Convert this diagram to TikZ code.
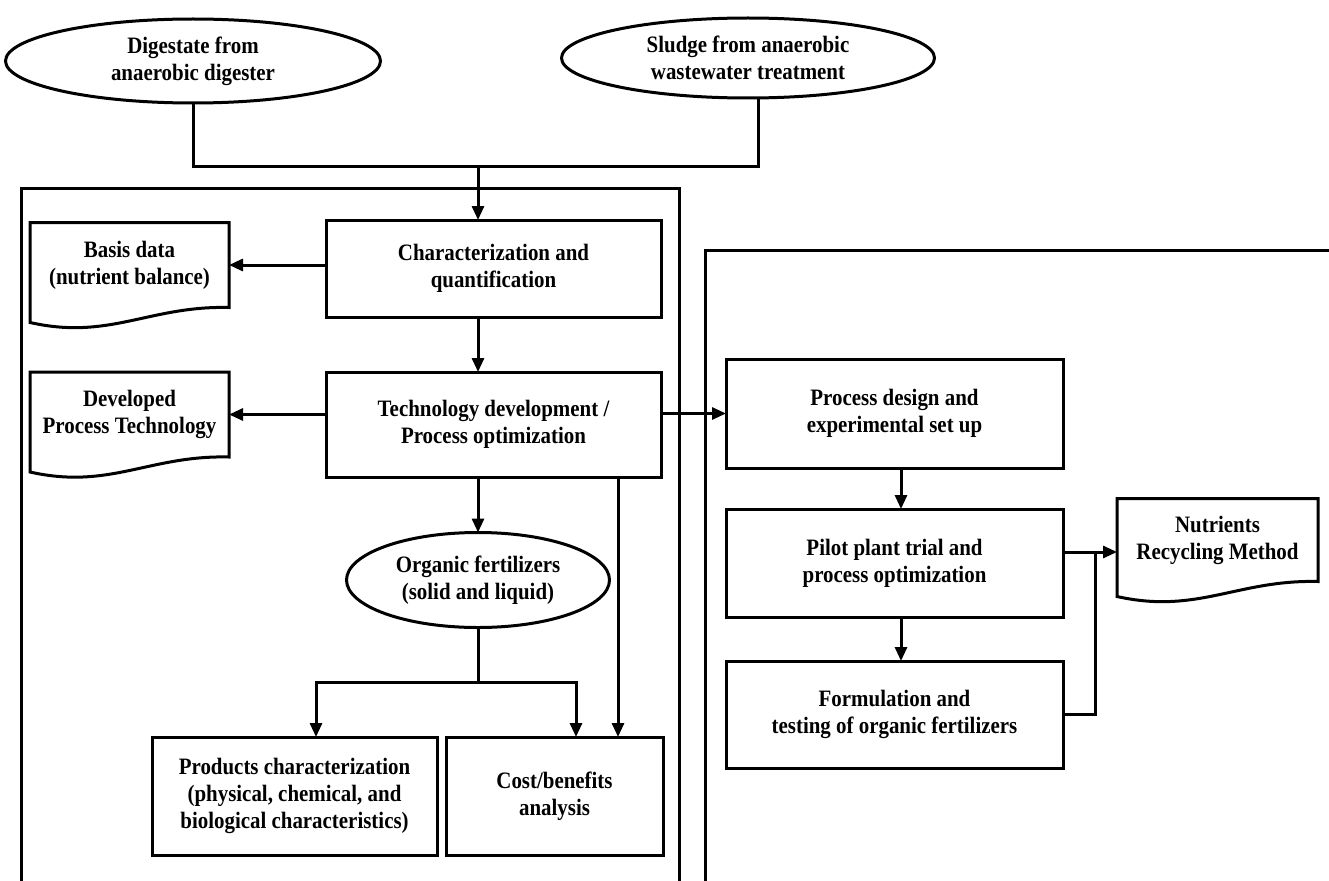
\documentclass[tikz,border=0pt]{standalone}
\usepackage{fontspec}
\setmainfont{Liberation Serif}[FakeStretch=0.89]
\usetikzlibrary{shapes.geometric,arrows.meta,calc}
\newcommand{\docout}[1]{\draw[ln] (#1.north west) -- (#1.north east) -- (#1.south east) .. controls ($(#1.south east)!0.4!(#1.south west)+(0,-2)$) and ($(#1.south east)!0.6!(#1.south west)+(0,33)$) .. ($(#1.south west)+(0,15)$) -- cycle;}
\begin{document}
\begin{tikzpicture}[x=1pt,y=-1pt,
  ln/.style={line width=3pt, line join=miter},
  arr/.style={ln,-{Triangle[length=14pt,width=12pt]}},
  txt/.style={font=\fontsize{23.5}{27}\selectfont\bfseries, align=center, inner sep=0pt, outer sep=0pt},
  box/.style={txt, draw, line width=3pt, rectangle},
  oval/.style={txt, draw, line width=3pt, ellipse},
  doc/.style={txt, rectangle}]
\useasboundingbox (0,0) rectangle (1329,880);

% frames
\draw[ln] (21,882) -- (21,188) -- (679,188) -- (679,882);
\draw[ln] (705,882) -- (705,250) -- (1331,250);

% sources
\node[oval, minimum width=375pt, minimum height=84pt] (srcA) at (193,61) {Digestate from\\anaerobic digester};
\node[oval, minimum width=373pt, minimum height=80pt] (srcB) at (748,58) {Sludge from anaerobic\\wastewater treatment};

% left column
\node[box, minimum width=335pt, minimum height=97pt] (char) at (493.5,268.5) {Characterization and\\quantification};
\node[box, minimum width=335pt, minimum height=105pt] (tech) at (493.5,424.5) {Technology development /\\Process optimization};
\node[doc, minimum width=199pt, minimum height=85pt] (basis) at (129.5,265) {Basis data\\(nutrient balance)};
\node[doc, minimum width=199pt, minimum height=85pt] (dev) at (129.5,414.5) {Developed\\Process Technology};
\docout{basis}
\docout{dev}
\node[oval, minimum width=263pt, minimum height=95pt] (org) at (478,580) {Organic fertilizers\\(solid and liquid)};
\node[box, minimum width=285pt, minimum height=118pt] (prod) at (294.5,796) {Products characterization\\(physical, chemical, and\\biological characteristics)};
\node[box, minimum width=217pt, minimum height=118pt] (cost) at (554.5,796) {Cost/benefits\\analysis};

% right column
\node[box, minimum width=337pt, minimum height=109pt] (proc) at (894.5,413.5) {Process design and\\experimental set up};
\node[box, minimum width=337pt, minimum height=108pt] (pilot) at (894.5,563) {Pilot plant trial and\\process optimization};
\node[box, minimum width=337pt, minimum height=107pt] (form) at (894.5,714.5) {Formulation and\\testing of organic fertilizers};
\node[doc, minimum width=201pt, minimum height=83pt] (nutr) at (1217.5,540) {Nutrients\\Recycling Method};
\docout{nutr}

% junction coordinates
\coordinate (j) at (478,166);
\coordinate (bj) at (758,166);
\coordinate (tx) at (618,0);
\coordinate (f) at (478,682);
\coordinate (fl) at (316,682);
\coordinate (fr) at (576,682);
\coordinate (px) at (901,0);
\coordinate (k) at (1095,552);

% connectors
\draw[ln] (srcA.south) |- (bj) -- (bj |- srcB.south);
\draw[arr] (j) -- (j |- char.north);
\draw[arr] (char.west |- basis.east) -- (basis.east);
\draw[arr] (char.south -| j) -- (tech.north -| j);
\draw[arr] (tech.west |- dev.east) -- (dev.east);
\draw[arr] (tech.east |- proc.west) -- (proc.west);
\draw[arr] (tech.south -| j) -- (org.north);
\draw[ln] (org.south) -- (f);
\draw[arr] (f) -| (fl |- prod.north);
\draw[arr] (f) -| (fr |- cost.north);
\draw[arr] (tech.south -| tx) -- (cost.north -| tx);
\draw[arr] (proc.south -| px) -- (pilot.north -| px);
\draw[arr] (pilot.south -| px) -- (form.north -| px);
\draw[arr] (pilot.east |- k) -- (nutr.west |- k);
\draw[ln] (form.east) -| (k);
\end{tikzpicture}
\end{document}
